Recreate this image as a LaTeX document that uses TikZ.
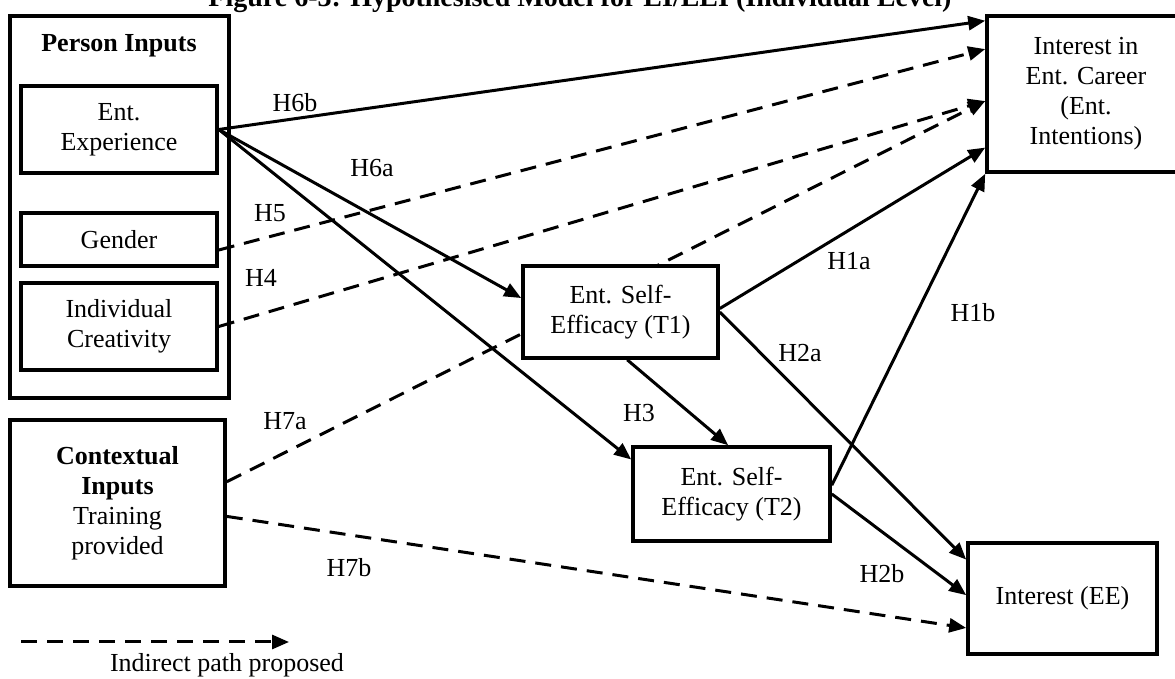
\documentclass[tikz,border=0pt]{standalone}
\usepackage{fontspec}
\setmainfont{Liberation Serif}
\usetikzlibrary{arrows.meta}

\begin{document}
\fontsize{13}{15}\selectfont
\begin{tikzpicture}[
        x=0.5pt, y=-0.5pt,
        box/.style={rectangle, draw=black, line width=1.8pt, fill=white, align=center, inner sep=0pt},
        group/.style={rectangle, draw=black, line width=1.8pt, inner sep=0pt},
        arrow/.style={line width=1.5pt, -{Triangle[length=8.5pt, width=7pt]}},
        dasharrow/.style={arrow, dash pattern=on 8pt off 5pt}
    ]
        \path[use as bounding box, clip] (0,0) rectangle (1175,679);
        \node[anchor=base] (title) at (580,7) {\fontsize{14}{16}\selectfont\textbf{Figure 6-3: Hypothesised Model for EI/EEI (Individual Level)}};

        \node[group, minimum width=109.5pt, minimum height=191pt] (person) at (119.5,207) {};
        \node[anchor=base] (persontitle) at (119,52) {\textbf{Person Inputs}};
        \node[box, minimum width=98pt, minimum height=43.5pt] (entexp) at (119,129.5) {Ent.\\Experience};
        \node[box, minimum width=98pt, minimum height=26.5pt] (gender) at (119,239.5) {Gender};
        \node[box, minimum width=98pt, minimum height=43.5pt] (creativity) at (119,326.5) {Individual\\Creativity};
        \node[box, minimum width=107.5pt, minimum height=83pt] (context) at (117.5,503) {\textbf{Contextual}\\\textbf{Inputs}\\Training\\provided};
        \node[box, minimum width=99pt, minimum height=78pt] (career) at (1086,94) {Interest in\\Ent. Career\\(Ent.\\Intentions)};
        \node[box, minimum width=94.5pt, minimum height=55.5pt] (interest) at (1062.5,598.5) {Interest (EE)};
        \node[box, minimum width=98.5pt, minimum height=47pt] (selfeff2) at (731.5,494) {Ent. Self-\\Efficacy (T2)};

        % H7a runs behind the T1 box
        \draw[dasharrow] (context.11) -- (career.184);

        \node[box, minimum width=97.5pt, minimum height=46pt] (selfeff1) at (620.5,312) {Ent. Self-\\Efficacy (T1)};

        \draw[arrow] (entexp.east) -- (career.144);
        \draw[arrow] (entexp.east) -- (selfeff1.172);
        \draw[arrow] (entexp.east) -- (selfeff2.161);
        \draw[dasharrow] (gender.354) -- (career.156);
        \draw[dasharrow] (creativity.east) -- (career.184);
        \draw[dasharrow] (context.353) -- (interest.197);
        \draw[arrow] (selfeff1.2) -- (career.208);
        \draw[arrow] (selfeff1.east) -- (interest.158);
        \draw[arrow] (selfeff1.278) -- (selfeff2.94);
        \draw[arrow] (selfeff2.5) -- (career.south west);
        \draw[arrow] (selfeff2.east) -- (interest.178);

        % hypothesis labels
        \node[anchor=base] (h6b) at (295,112) {H6b};
        \node[anchor=base] (h6a) at (372,177) {H6a};
        \node[anchor=base] (h5) at (270,222) {H5};
        \node[anchor=base] (h4) at (261,287) {H4};
        \node[anchor=base] (h7a) at (285,430) {H7a};
        \node[anchor=base] (h7b) at (349,577) {H7b};
        \node[anchor=base] (h1a) at (849,270) {H1a};
        \node[anchor=base] (h2a) at (800,362) {H2a};
        \node[anchor=base] (h1b) at (973,322) {H1b};
        \node[anchor=base] (h3) at (639,422) {H3};
        \node[anchor=base] (h2b) at (882,583) {H2b};

        % legend
        \coordinate (legstart) at (21,642);
        \coordinate (legend) at (289,642);
        \draw[dasharrow] (legstart) -- (legend);
        \node[anchor=base] (legtext) at (227,672) {Indirect path proposed};
\end{tikzpicture}
\end{document}
